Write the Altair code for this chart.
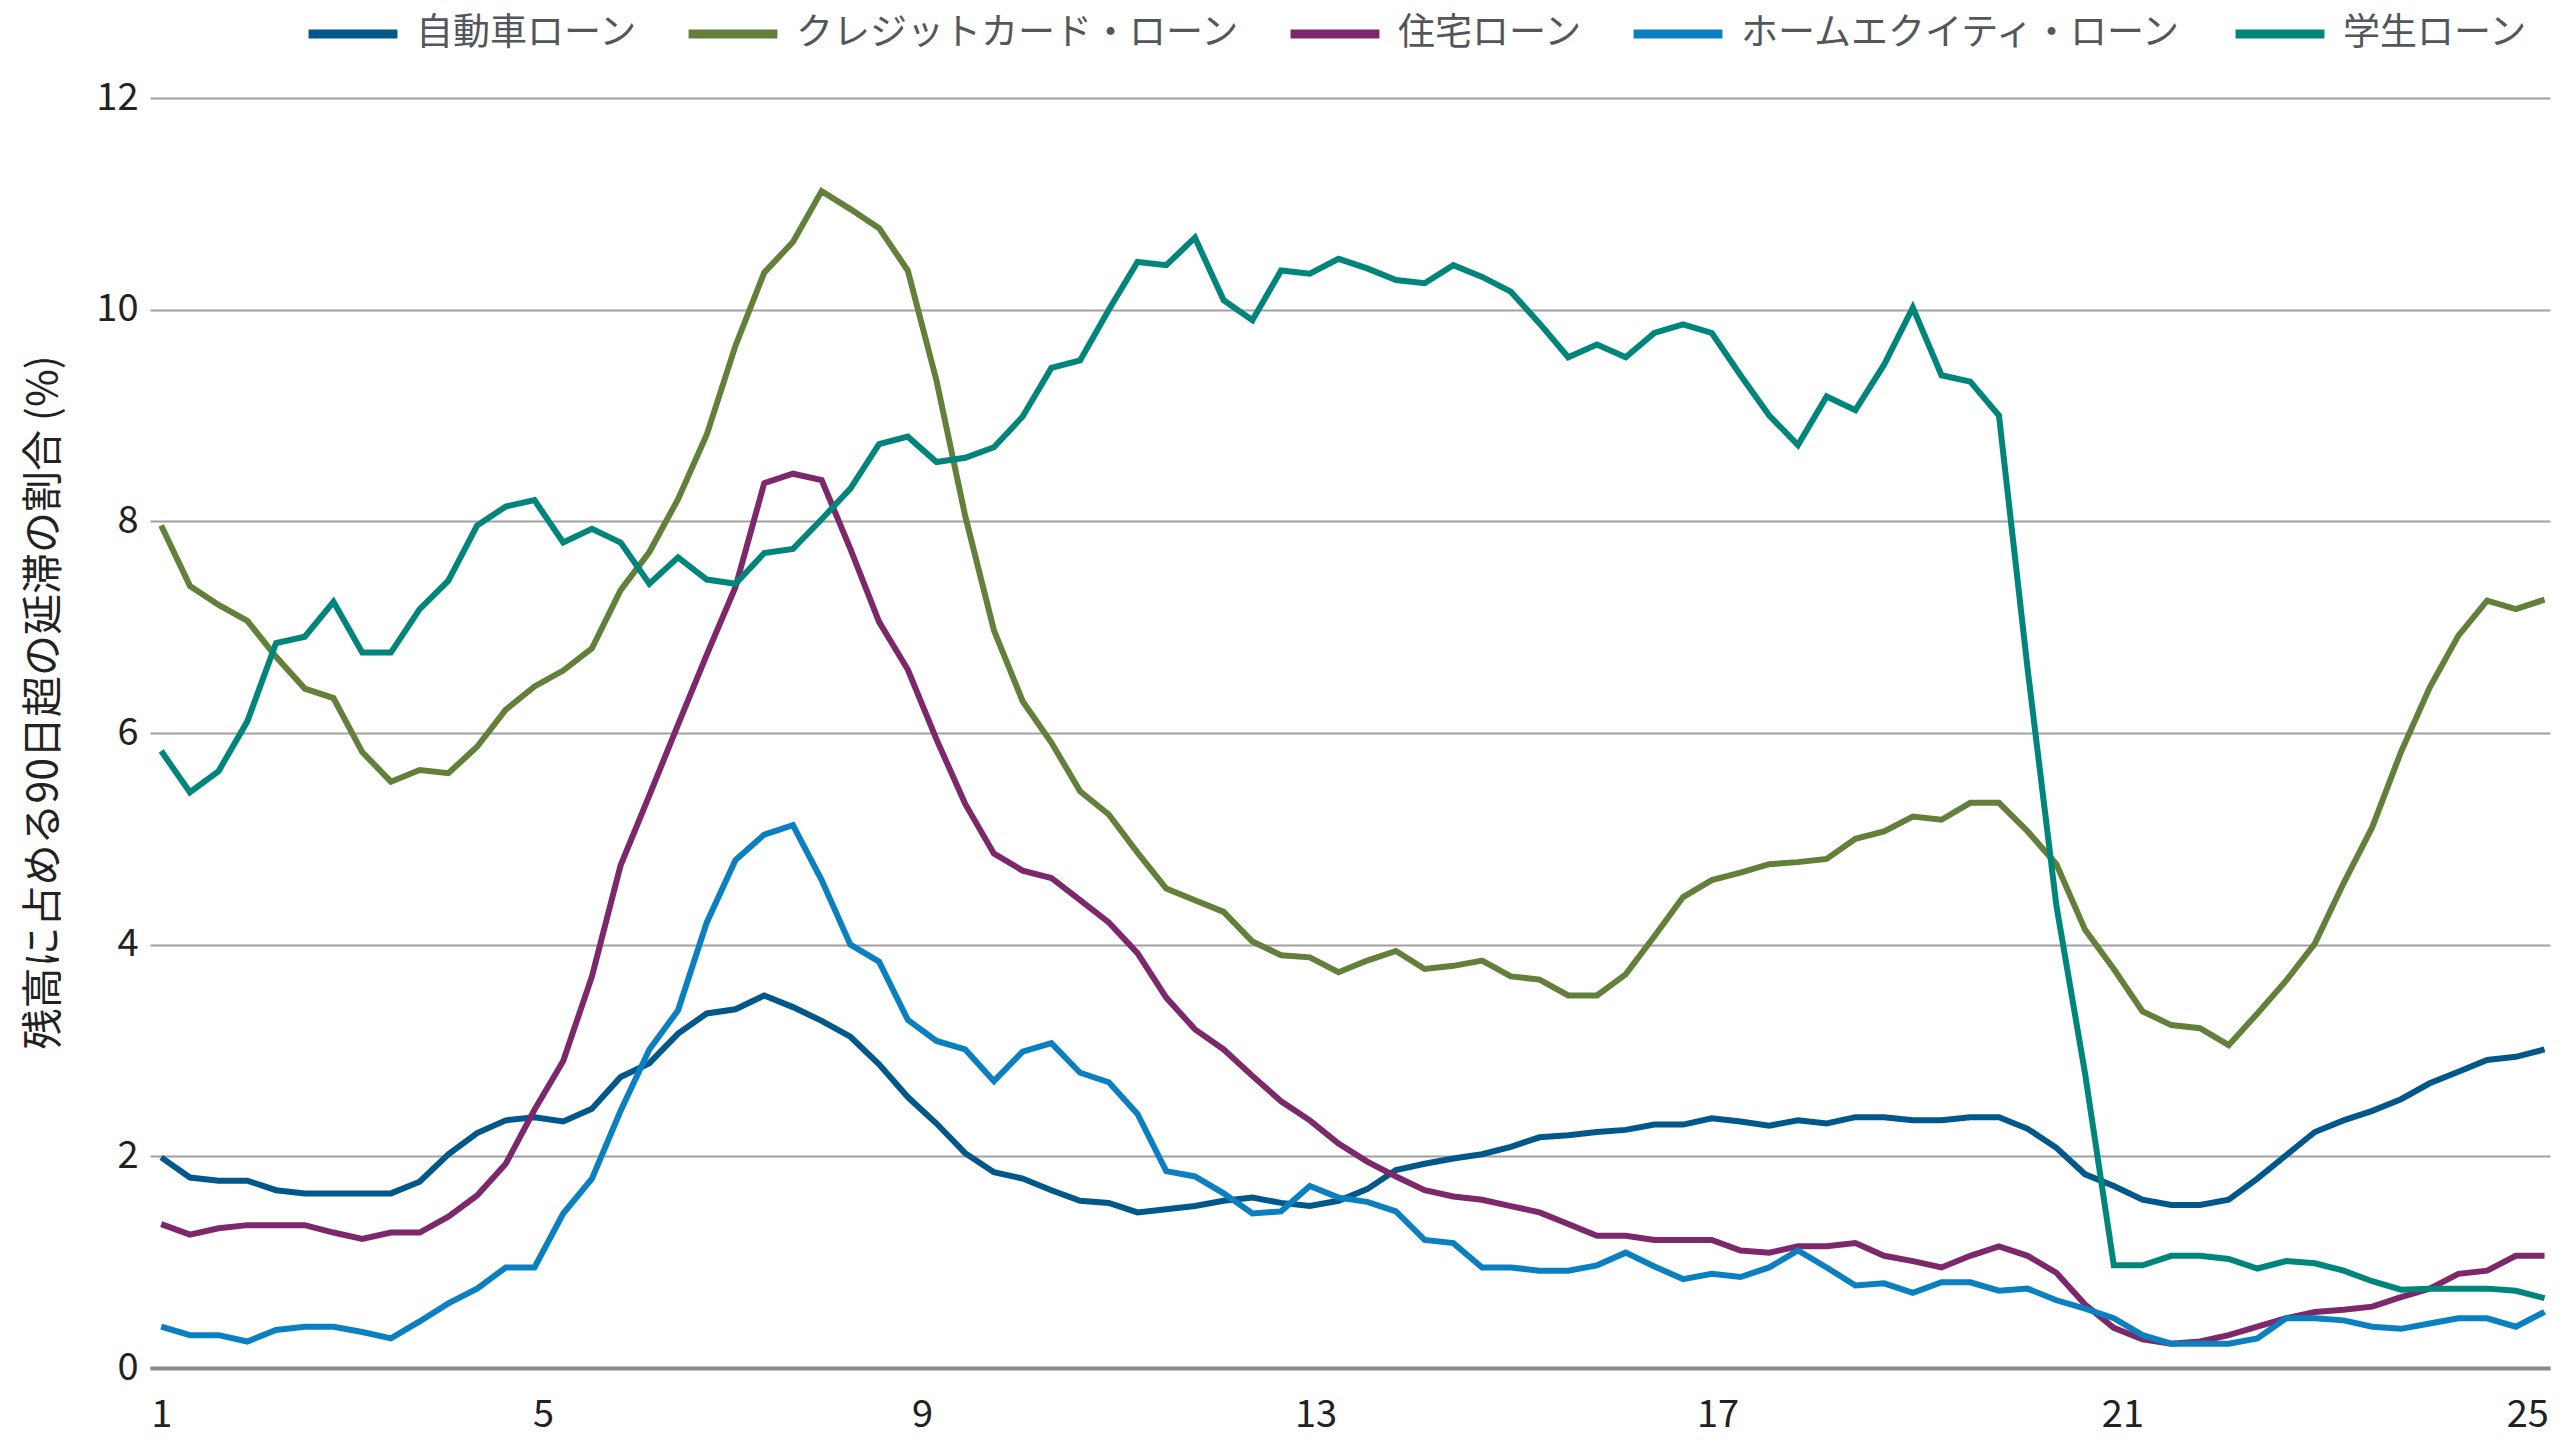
import altair as alt
import pandas as pd

SERIES = ["自動車ローン", "クレジットカード・ローン", "住宅ローン", "ホームエクイティ・ローン", "学生ローン"]
COLORS = ["#00578a", "#62803a", "#7d286a", "#0a80c0", "#00857a"]

AUTO = [1.99, 1.80, 1.77, 1.77, 1.68, 1.65, 1.65, 1.65, 1.65, 1.76,
        2.02, 2.22, 2.34, 2.37, 2.33, 2.45, 2.75, 2.88, 3.16, 3.35,
        3.39, 3.52, 3.41, 3.28, 3.13, 2.87, 2.56, 2.31, 2.03, 1.85,
        1.79, 1.68, 1.58, 1.56, 1.47, 1.50, 1.53, 1.58, 1.61, 1.56,
        1.53, 1.58, 1.69, 1.87, 1.93, 1.98, 2.02, 2.09, 2.18, 2.20,
        2.23, 2.25, 2.30, 2.30, 2.36, 2.33, 2.29, 2.34, 2.31, 2.37,
        2.37, 2.34, 2.34, 2.37, 2.37, 2.26, 2.08, 1.83, 1.72, 1.59,
        1.54, 1.54, 1.59, 1.79, 2.01, 2.23, 2.34, 2.43, 2.54, 2.69,
        2.80, 2.91, 2.94, 3.01]

CREDIT = [7.96, 7.39, 7.21, 7.06, 6.72, 6.42, 6.33, 5.82, 5.54, 5.65,
          5.62, 5.87, 6.22, 6.44, 6.59, 6.80, 7.35, 7.71, 8.21, 8.82,
          9.66, 10.35, 10.64, 11.12, 10.95, 10.77, 10.37, 9.33, 8.05, 6.97,
          6.30, 5.91, 5.45, 5.23, 4.87, 4.53, 4.42, 4.31, 4.03, 3.90,
          3.88, 3.74, 3.85, 3.94, 3.77, 3.80, 3.85, 3.70, 3.67, 3.52,
          3.52, 3.72, 4.08, 4.45, 4.61, 4.68, 4.76, 4.78, 4.81, 5.00,
          5.07, 5.21, 5.18, 5.34, 5.34, 5.07, 4.76, 4.14, 3.77, 3.37,
          3.24, 3.21, 3.05, 3.35, 3.66, 4.01, 4.58, 5.11, 5.82, 6.43,
          6.92, 7.25, 7.17, 7.26]

MORTGAGE = [1.36, 1.26, 1.32, 1.35, 1.35, 1.35, 1.28, 1.22, 1.28, 1.28,
            1.43, 1.63, 1.93, 2.44, 2.90, 3.70, 4.75, 5.41, 6.08, 6.74,
            7.38, 8.36, 8.45, 8.39, 7.74, 7.05, 6.60, 5.94, 5.33, 4.86,
            4.70, 4.63, 4.42, 4.21, 3.92, 3.50, 3.20, 3.01, 2.76, 2.52,
            2.34, 2.12, 1.95, 1.81, 1.68, 1.62, 1.59, 1.53, 1.47, 1.36,
            1.25, 1.25, 1.21, 1.21, 1.21, 1.11, 1.09, 1.15, 1.15, 1.18,
            1.06, 1.01, 0.95, 1.06, 1.15, 1.06, 0.90, 0.60, 0.38, 0.27,
            0.23, 0.25, 0.31, 0.39, 0.47, 0.53, 0.55, 0.58, 0.67, 0.75,
            0.89, 0.92, 1.06, 1.06]

HOME_EQUITY = [0.39, 0.31, 0.31, 0.25, 0.36, 0.39, 0.39, 0.34, 0.28, 0.44,
               0.61, 0.75, 0.95, 0.95, 1.46, 1.79, 2.43, 3.01, 3.38, 4.21,
               4.80, 5.04, 5.13, 4.61, 4.00, 3.84, 3.29, 3.09, 3.01, 2.71,
               2.99, 3.07, 2.79, 2.70, 2.40, 1.86, 1.81, 1.65, 1.46, 1.48,
               1.72, 1.61, 1.57, 1.48, 1.21, 1.18, 0.95, 0.95, 0.92, 0.92,
               0.97, 1.09, 0.96, 0.84, 0.89, 0.86, 0.95, 1.11, 0.95, 0.78,
               0.80, 0.71, 0.81, 0.81, 0.73, 0.75, 0.64, 0.56, 0.47, 0.31,
               0.23, 0.23, 0.23, 0.28, 0.47, 0.47, 0.45, 0.39, 0.37, 0.42,
               0.47, 0.47, 0.39, 0.53]

STUDENT = [5.83, 5.44, 5.64, 6.11, 6.85, 6.91, 7.24, 6.76, 6.76, 7.17,
           7.44, 7.96, 8.14, 8.20, 7.80, 7.93, 7.80, 7.41, 7.66, 7.45,
           7.41, 7.70, 7.74, 8.02, 8.31, 8.73, 8.80, 8.56, 8.60, 8.70,
           8.99, 9.45, 9.52, 10.00, 10.45, 10.42, 10.68, 10.09, 9.90, 10.37,
           10.34, 10.48, 10.39, 10.28, 10.25, 10.42, 10.31, 10.17, 9.87, 9.55,
           9.67, 9.55, 9.78, 9.86, 9.78, 9.38, 9.00, 8.72, 9.18, 9.05,
           9.48, 10.02, 9.38, 9.32, 9.00, 6.60, 4.37, 2.78, 0.97, 0.97,
           1.06, 1.06, 1.03, 0.94, 1.01, 0.99, 0.92, 0.82, 0.74, 0.75,
           0.75, 0.75, 0.73, 0.66]

TICK_POS = [0, 13.3, 26.5, 40.2, 54.2, 68.3, 82.4]
TICK_LABELS = ["1", "5", "9", "13", "17", "21", "25"]
Y_TICKS = [0, 2, 4, 6, 8, 10, 12]
Y_TITLE = "残高に占める90日超の延滞の割合 (%)"

rows = []
for order, (name, vals) in enumerate(zip(SERIES, [AUTO, CREDIT, MORTGAGE, HOME_EQUITY, STUDENT])):
    for i, v in enumerate(vals):
        rows.append({"series": name, "ord": order, "idx": i, "value": v})
df = pd.DataFrame(rows)

label_expr = ("[" + ",".join(f"'{l}'" for l in TICK_LABELS) + "][indexof(["
              + ",".join(str(p) for p in TICK_POS) + "], datum.value)]")

FONT = "Noto Sans CJK JP"

chart = alt.Chart(df).mark_line(strokeWidth=6).encode(
    x=alt.X("idx:Q",
            scale=alt.Scale(domain=[-0.39, 83.19], nice=False, zero=False),
            axis=alt.Axis(values=TICK_POS, labelExpr=label_expr, title=None, grid=False,
                          ticks=False, domain=True, domainColor="#8a8a8a", domainWidth=4,
                          labelFontSize=38, labelColor="#222222", labelFont=FONT,
                          labelPadding=28, labelFlush=False)),
    y=alt.Y("value:Q",
            scale=alt.Scale(domain=[0, 12], nice=False),
            axis=alt.Axis(values=Y_TICKS, title=Y_TITLE, grid=True, gridColor="#a0a0a0",
                          gridWidth=2, ticks=False, domain=False, labelFontSize=38,
                          labelFont=FONT, labelColor="#222222", labelPadding=12,
                          titleFont=FONT, titleFontSize=41, titleFontWeight="normal",
                          titleColor="#222222", titlePadding=30, titleY=604)),
    color=alt.Color("series:N",
                    scale=alt.Scale(domain=SERIES, range=COLORS),
                    sort=SERIES,
                    legend=alt.Legend(title=None, orient="none", legendX=154, legendY=-113,
                                      direction="horizontal", columns=5, symbolType="stroke",
                                      symbolSize=7900, symbolStrokeWidth=9, labelFont=FONT,
                                      labelFontSize=37, labelColor="#53565a", labelOffset=14,
                                      labelLimit=0, columnPadding=32, padding=0)),
    order=alt.Order("idx:Q"),
).properties(
    width=2400, height=1270,
    padding={"left": 142, "top": 90, "right": 2, "bottom": 70},
    autosize=alt.AutoSizeParams(type="none"),
).configure_view(stroke=None)

chart.save("out.html", embed_options={"renderer": "svg", "actions": False})
